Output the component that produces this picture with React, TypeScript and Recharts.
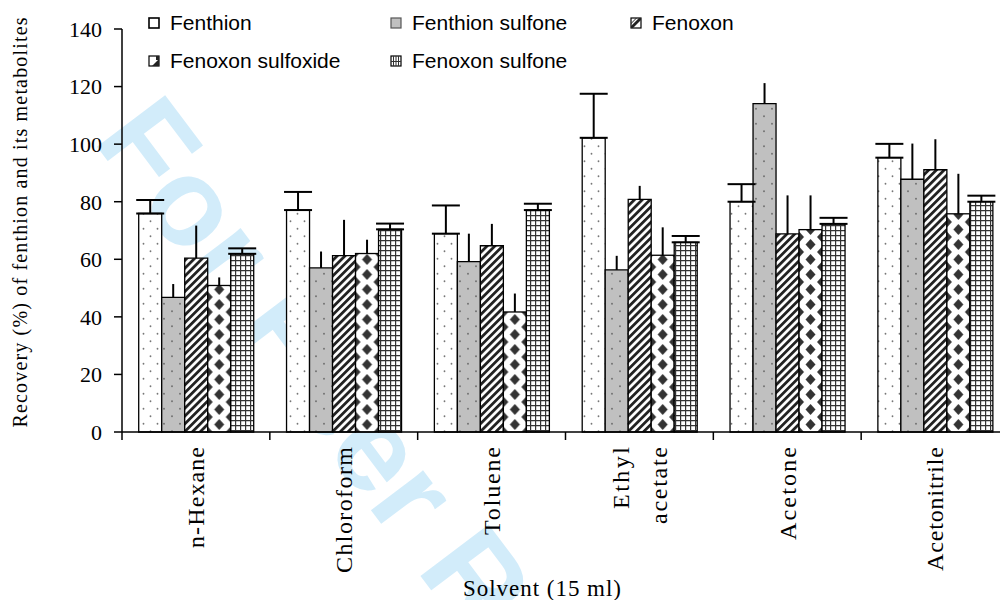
import React from 'react';
import { BarChart, Bar, XAxis, YAxis, ErrorBar } from 'recharts';

// solvents on the x axis
const solvents = ['n-Hexane', 'Chloroform', 'Toluene', 'Ethyl acetate', 'Acetone', 'Acetonitrile'];

// recovery (%) and upper error per analyte
const fenthion = [75.9, 77.1, 68.9, 102.2, 80.0, 95.3];
const fenthionErr = [4.7, 6.3, 9.8, 15.3, 6.1, 4.8];
const fenthionSulfone = [46.8, 57.0, 59.2, 56.3, 114.1, 87.8];
const fenthionSulfoneErr = [4.6, 5.7, 9.7, 4.9, 7.1, 12.4];
const fenoxon = [60.4, 61.3, 64.7, 80.8, 68.8, 91.1];
const fenoxonErr = [11.3, 12.4, 7.6, 4.7, 13.4, 10.6];
const fenoxonSulfoxide = [50.9, 62.0, 41.7, 61.4, 70.3, 75.8];
const fenoxonSulfoxideErr = [2.8, 4.8, 6.4, 9.7, 11.9, 13.9];
const fenoxonSulfone = [61.9, 70.4, 77.1, 65.9, 72.3, 80.0];
const fenoxonSulfoneErr = [1.9, 2.0, 2.2, 2.2, 2.1, 2.1];

const yTicks = [0, 20, 40, 60, 80, 100, 120, 140];

const data = solvents.map((solvent, i) => ({
  solvent,
  fenthion: fenthion[i],
  fenthionErr: [0, fenthionErr[i]],
  fenthionSulfone: fenthionSulfone[i],
  fenthionSulfoneErr: [0, fenthionSulfoneErr[i]],
  fenoxon: fenoxon[i],
  fenoxonErr: [0, fenoxonErr[i]],
  fenoxonSulfoxide: fenoxonSulfoxide[i],
  fenoxonSulfoxideErr: [0, fenoxonSulfoxideErr[i]],
  fenoxonSulfone: fenoxonSulfone[i],
  fenoxonSulfoneErr: [0, fenoxonSulfoneErr[i]],
}));

const CHART_W = 1009;
const CHART_H = 600;
const Y_AXIS_W = 122;
const TOP = 29;
const PLOT_H = 403;
const BAND = (CHART_W - Y_AXIS_W) / solvents.length;

const serif = "'Liberation Serif', 'Times New Roman', Times, serif";
const sans = "'Liberation Sans', Arial, Helvetica, sans-serif";

// stretched lengths of the rotated solvent names
const labelLength: Record<string, number> = {
  'n-Hexane': 101,
  Chloroform: 126,
  Toluene: 88,
  Ethyl: 62,
  acetate: 77,
  Acetone: 93,
  Acetonitrile: 124,
};

const CategoryTick = (props: any) => {
  const { x, y, payload } = props;
  const lines: string[] = payload.value === 'Ethyl acetate' ? ['Ethyl', 'acetate'] : [payload.value];
  const step = 38;
  return (
    <g>
      <line x1={x - BAND / 2} x2={x - BAND / 2} y1={y} y2={y + 8} stroke="#000" strokeWidth={1.5} />
      {lines.map((ln, i) => (
        <text
          key={ln}
          transform={`translate(${x + (i - (lines.length - 1) / 2) * step}, ${y + 15}) rotate(-90)`}
          textAnchor="end"
          dy="0.35em"
          fontFamily={serif}
          fontSize={24}
          fill="#000"
          textLength={labelLength[ln]}
          lengthAdjust="spacing"
        >
          {ln}
        </text>
      ))}
    </g>
  );
};

const YLabel = (props: any) => {
  const { viewBox } = props;
  const cy = viewBox.y + viewBox.height / 2 - 8;
  return (
    <text
      transform={`translate(20, ${cy}) rotate(-90)`}
      textAnchor="middle"
      dy="0.35em"
      fontFamily={serif}
      fontSize={20}
      fill="#000"
      textLength={410}
      lengthAdjust="spacing"
    >
      Recovery (%) of fenthion and its metabolites
    </text>
  );
};

const XLabel = (props: any) => {
  const { viewBox } = props;
  return (
    <text
      x={viewBox.x + 420}
      y={viewBox.y + 164}
      textAnchor="middle"
      fontFamily={serif}
      fontSize={23}
      fill="#000"
      textLength={158}
      lengthAdjust="spacing"
    >
      Solvent (15 ml)
    </text>
  );
};

const DiamondBar = (props: any) => {
  const { x, y, width, height, index } = props;
  if (!height || height <= 0) return null;
  const id = `dia-${index}`;
  const w = width;
  const h = 15;
  const d = (cx: number, cy: number) => `${cx},${cy - 5.5} ${cx + 5},${cy} ${cx},${cy + 5.5} ${cx - 5},${cy}`;
  return (
    <g>
      <defs>
        <pattern id={id} patternUnits="userSpaceOnUse" x={x} y={y + height} width={w} height={h}>
          <rect width={w} height={h} fill="#fff" />
          <polygon points={d(w / 2, h / 2)} fill="#333" />
          <polygon points={d(0, 0)} fill="#333" />
          <polygon points={d(w, 0)} fill="#333" />
          <polygon points={d(0, h)} fill="#333" />
          <polygon points={d(w, h)} fill="#333" />
        </pattern>
      </defs>
      <rect x={x} y={y} width={width} height={height} fill={`url(#${id})`} stroke="#000" strokeWidth={1.3} />
    </g>
  );
};

const Swatch = ({ kind }: { kind: number }) => (
  <svg width={12} height={12} style={{ display: 'block' }}>
    {kind === 0 && <rect x={1} y={1} width={10} height={10} fill="#fff" stroke="#000" strokeWidth={1.6} />}
    {kind === 1 && <rect x={1} y={1} width={10} height={10} fill="#c0c0c0" stroke="#555" strokeWidth={1.2} />}
    {kind === 2 && (
      <g>
        <rect x={1} y={1} width={10} height={10} fill="#fff" stroke="#000" strokeWidth={1.2} />
        <polygon points="1,11 1,9 9,1 11,1 11,3 3,11" fill="#222" />
        <polygon points="1,11 1,6 6,1 7,1 1,7" fill="#222" />
      </g>
    )}
    {kind === 3 && (
      <g>
        <rect x={1} y={1} width={10} height={10} fill="#fff" stroke="#000" strokeWidth={1.2} />
        <polygon points="4,11 11,4 11,11" fill="#222" />
        <rect x={8} y={1} width={3} height={4} fill="#222" />
      </g>
    )}
    {kind === 4 && (
      <g>
        <rect x={1} y={1} width={10} height={10} fill="#fff" stroke="#000" strokeWidth={1.2} />
        <path d="M6 1V11M1 6.5H11M3.5 1V11M8.5 1V11" stroke="#333" strokeWidth={1} />
      </g>
    )}
  </svg>
);

const legendItems = [
  { name: 'Fenthion', left: 148, top: 23 },
  { name: 'Fenthion sulfone', left: 390, top: 23 },
  { name: 'Fenoxon', left: 630, top: 23 },
  { name: 'Fenoxon sulfoxide', left: 148, top: 61 },
  { name: 'Fenoxon sulfone', left: 390, top: 61 },
];

export default function App() {
  return (
    <div style={{ position: 'fixed', left: 0, top: 0, width: 1000, height: 600, overflow: 'hidden', background: '#fff' }}>
      <svg width={1000} height={600} style={{ position: 'absolute', left: 0, top: 0 }}>
        <defs>
          <pattern id="pDots" patternUnits="userSpaceOnUse" width={14} height={15}>
            <rect width={14} height={15} fill="#fff" />
            <circle cx={3.5} cy={3.75} r={0.9} fill="#777" />
            <circle cx={10.5} cy={11.25} r={0.9} fill="#777" />
          </pattern>
          <pattern id="pGrayDots" patternUnits="userSpaceOnUse" width={16} height={15}>
            <rect width={16} height={15} fill="#c0c0c0" />
            <circle cx={4} cy={3.75} r={0.9} fill="#6a6a6a" />
            <circle cx={12} cy={11.25} r={0.9} fill="#6a6a6a" />
          </pattern>
          <pattern id="pStripe" patternUnits="userSpaceOnUse" width={5.5} height={5.5} patternTransform="rotate(45)">
            <rect width={5.5} height={5.5} fill="#fff" />
            <rect width={2.8} height={5.5} fill="#222" />
          </pattern>
          <pattern id="pGrid" patternUnits="userSpaceOnUse" width={5} height={5}>
            <rect width={5} height={5} fill="#fff" />
            <path d="M0 0.6H5M0.6 0V5" stroke="#333" strokeWidth={1.2} />
          </pattern>
        </defs>
        <text
          transform="translate(92, 140) rotate(53)"
          fontFamily={sans}
          fontWeight="bold"
          fontSize={124}
          fill="#d2ecfa"
        >
          For Peer Review
        </text>
      </svg>
      <div style={{ position: 'absolute', left: 0, top: 0 }}>
        <BarChart
          width={CHART_W}
          height={CHART_H}
          data={data}
          margin={{ top: TOP, right: 0, bottom: 0, left: 0 }}
          barCategoryGap="11.3%"
          barGap={0}
        >
          <XAxis
            dataKey="solvent"
            height={CHART_H - TOP - PLOT_H}
            tickLine={false}
            tickSize={0}
            tickMargin={0}
            interval={0}
            axisLine={{ stroke: '#000', strokeWidth: 1.5 }}
            tick={<CategoryTick />}
            label={<XLabel />}
          />
          <YAxis
            width={Y_AXIS_W}
            domain={[0, 140]}
            ticks={yTicks}
            interval={0}
            tickSize={8}
            tickMargin={12}
            axisLine={{ stroke: '#000', strokeWidth: 1.5 }}
            tickLine={{ stroke: '#000', strokeWidth: 1.5 }}
            tick={{ fontFamily: serif, fontSize: 22, fill: '#000' }}
            label={<YLabel />}
          />
          <Bar dataKey="fenthion" name="Fenthion" fill="url(#pDots)" stroke="#000" strokeWidth={1.3} isAnimationActive={false}>
            <ErrorBar dataKey="fenthionErr" width={14} stroke="#000" strokeWidth={2} direction="y" />
          </Bar>
          <Bar dataKey="fenthionSulfone" name="Fenthion sulfone" fill="url(#pGrayDots)" stroke="#000" strokeWidth={1.3} isAnimationActive={false}>
            <ErrorBar dataKey="fenthionSulfoneErr" width={0} stroke="#000" strokeWidth={2} direction="y" />
          </Bar>
          <Bar dataKey="fenoxon" name="Fenoxon" fill="url(#pStripe)" stroke="#000" strokeWidth={1.3} isAnimationActive={false}>
            <ErrorBar dataKey="fenoxonErr" width={0} stroke="#000" strokeWidth={2} direction="y" />
          </Bar>
          <Bar dataKey="fenoxonSulfoxide" name="Fenoxon sulfoxide" shape={<DiamondBar />} isAnimationActive={false}>
            <ErrorBar dataKey="fenoxonSulfoxideErr" width={0} stroke="#000" strokeWidth={2} direction="y" />
          </Bar>
          <Bar dataKey="fenoxonSulfone" name="Fenoxon sulfone" fill="url(#pGrid)" stroke="#000" strokeWidth={1.3} isAnimationActive={false}>
            <ErrorBar dataKey="fenoxonSulfoneErr" width={14} stroke="#000" strokeWidth={2} direction="y" />
          </Bar>
        </BarChart>
      </div>
      {legendItems.map((it, i) => (
        <div
          key={it.name}
          style={{
            position: 'absolute',
            left: it.left,
            top: it.top,
            transform: 'translateY(-50%)',
            display: 'flex',
            alignItems: 'center',
            gap: 10,
            fontFamily: sans,
            fontSize: 21,
            color: '#000',
            whiteSpace: 'nowrap',
          }}
        >
          <Swatch kind={i} />
          <span>{it.name}</span>
        </div>
      ))}
    </div>
  );
}
